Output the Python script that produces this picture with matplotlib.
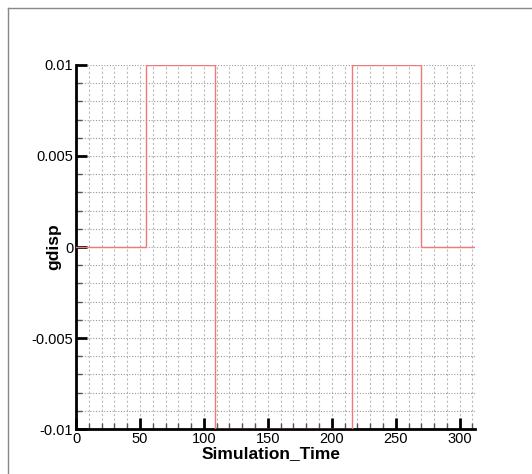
import matplotlib
matplotlib.use("Agg")
import matplotlib.pyplot as plt
from matplotlib.ticker import MultipleLocator
from matplotlib.lines import Line2D

plt.rcParams["font.family"] = ["Liberation Sans", "DejaVu Sans"]

# step signal
sim_time = [0, 54.5, 54.5, 108.3, 108.3, 108.8, 108.8, 215.9, 215.9, 269.8, 269.8, 312]
gdisp = [0, 0, 0.01, 0.01, -0.0025, -0.0025, -0.01, -0.01, 0.01, 0.01, 0, 0]

x_ticks = [0, 50, 100, 150, 200, 250, 300]
y_ticks = [-0.01, -0.005, 0, 0.005, 0.01]
y_tick_labels = ["-0.01", "-0.005", "0", "0.005", "0.01"]

fig = plt.figure(figsize=(5.32, 4.74), dpi=100)
ax = fig.add_axes([0.1429, 0.0949, 0.7500, 0.7680])

ax.plot(sim_time, gdisp, color="#f07878", linewidth=1.0, zorder=3)

ax.set_xlim(0, 312)
ax.set_ylim(-0.01, 0.01)

ax.set_xticks(x_ticks)
ax.set_xticklabels([str(t) for t in x_ticks])
ax.set_yticks(y_ticks)
ax.set_yticklabels(y_tick_labels)
ax.xaxis.set_minor_locator(MultipleLocator(10))
ax.yaxis.set_minor_locator(MultipleLocator(0.001))

ax.tick_params(which="major", direction="in", length=8, width=2, labelsize=10.5, pad=2)
ax.tick_params(which="minor", direction="in", length=4, width=1, color="#555555")

ax.grid(which="both", axis="y", color="#999999", linestyle=(0, (1, 1.5)), linewidth=0.8)
ax.grid(which="both", axis="x", color="#bbbbbb", linestyle=(0, (2, 2)), linewidth=0.8)
ax.set_axisbelow(True)

for side in ["top", "right"]:
    ax.spines[side].set_visible(False)
for side in ["left", "bottom"]:
    ax.spines[side].set_linewidth(2)

ax.set_xlabel("Simulation_Time", fontsize=12.5, fontweight="bold")
ax.set_ylabel("gdisp", fontsize=12.5, fontweight="bold")
ax.xaxis.set_label_coords(0.49, -0.048)
ax.yaxis.set_label_coords(-0.036, 0.5)

# frame lines around the plot area
fig.add_artist(Line2D([8 / 532, 8 / 532], [0, 1 - 8 / 474], transform=fig.transFigure,
                      color="#888888", linewidth=1))
fig.add_artist(Line2D([8 / 532, 1], [1 - 8 / 474, 1 - 8 / 474], transform=fig.transFigure,
                      color="#888888", linewidth=1))

fig.savefig("out.png", dpi=100)
